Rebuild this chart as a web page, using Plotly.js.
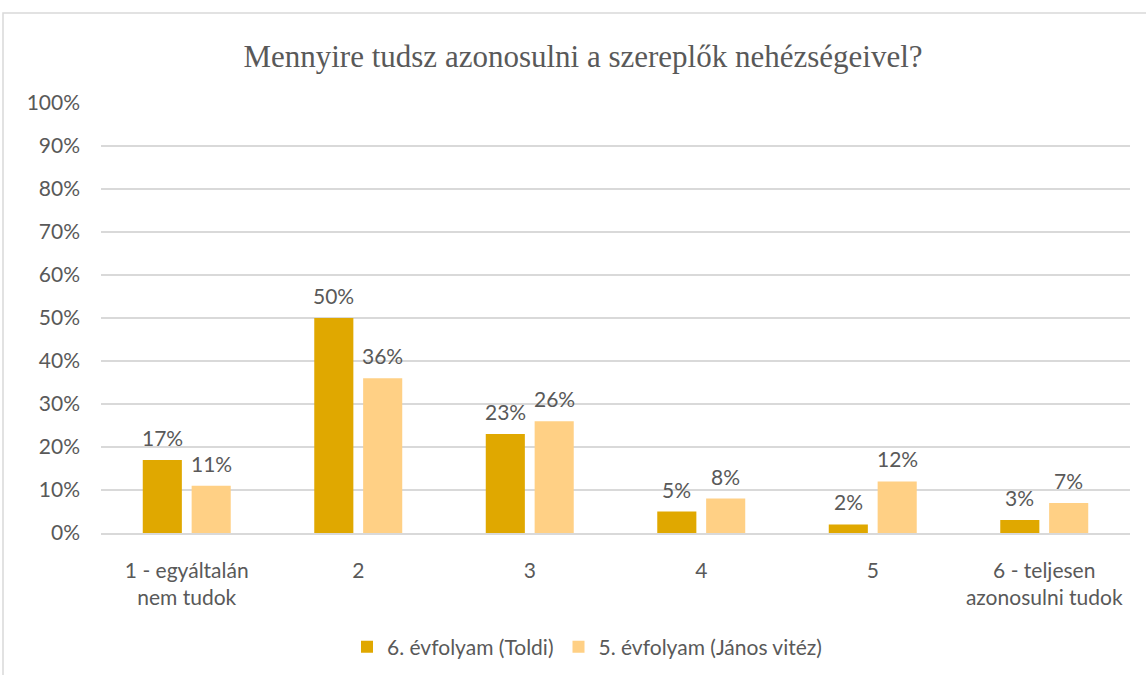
<!DOCTYPE html>
<html>
<head>
<meta charset="utf-8">
<script src="https://cdn.plot.ly/plotly-3.0.1.min.js"></script>
<style>html,body{margin:0;padding:0;background:#fff;}#chart{width:1146px;height:675px;}</style>
</head>
<body>
<div id="chart"></div>
<script>
const categories = ["1 - egyáltalán<br>nem tudok", "2", "3", "4", "5", "6 - teljesen<br>azonosulni tudok"];
const seriesNames = ["6. évfolyam (Toldi)", "5. évfolyam (János vitéz)"];
const toldi = [17, 50, 23, 5, 2, 3];
const janos = [11, 36, 26, 8, 12, 7];
const colors = ["#E0A800", "#FFD085"];
const textColor = "#595959";
const font = "Lato, 'Open Sans', sans-serif";
const fs = 21;

function trace(name, vals, color) {
  return {
    type: "bar", name: name, x: categories, y: vals,
    marker: {color: color},
    hoverinfo: "skip"
  };
}

const data = [trace(seriesNames[0], toldi, colors[0]), trace(seriesNames[1], janos, colors[1])];

const annotations = [];
[[toldi, -24.5], [janos, 24.5]].forEach(([vals, dx]) => {
  vals.forEach((v, i) => {
    annotations.push({x: i, y: v, xref: "x", yref: "y", text: v + "%", showarrow: false,
      xshift: dx, yanchor: "bottom", yshift: 8, font: {family: font, size: fs, color: textColor}});
  });
});

const layout = {
  width: 1146, height: 675,
  margin: {l: 101, r: 16, t: 103, b: 142, autoexpand: false},
  paper_bgcolor: "#fff", plot_bgcolor: "#fff",
  title: {text: "Mennyire tudsz azonosulni a szereplők nehézségeivel?", font: {family: "'Liberation Serif', serif", size: 31, color: textColor}, x: 583/1146, xanchor: "center", y: 1 - 56/675, yanchor: "middle"},
  barmode: "group", bargap: 0.43, bargroupgap: 0.2,
  xaxis: {type: "category", tickfont: {family: font, size: fs, color: textColor}, showline: true, linecolor: "#D9D9D9", linewidth: 1.5, ticks: "", showgrid: false, fixedrange: true, ticklabelstandoff: 18, automargin: false},
  yaxis: {range: [0, 100], dtick: 10, ticksuffix: "%", tickfont: {family: font, size: fs, color: textColor}, gridcolor: "#D9D9D9", gridwidth: 1.5, zeroline: false, ticks: "", ticklabelstandoff: 20, fixedrange: true, automargin: false},
  showlegend: true,
  legend: {orientation: "h", x: 587/1146, xref: "container", xanchor: "center", y: (533 - 647) / 430, yanchor: "middle", font: {family: font, size: fs, color: textColor}, traceorder: "normal", itemwidth: 30},
  annotations: annotations,
  shapes: [{type: "rect", xref: "paper", yref: "paper", x0: (3 - 101) / 1029, x1: 1.2, y0: -0.6, y1: (533 - 13) / 430, line: {color: "#D9D9D9", width: 1.5}}]
};

Plotly.newPlot("chart", data, layout, {displayModeBar: false, staticPlot: true});
</script>
</body>
</html>
